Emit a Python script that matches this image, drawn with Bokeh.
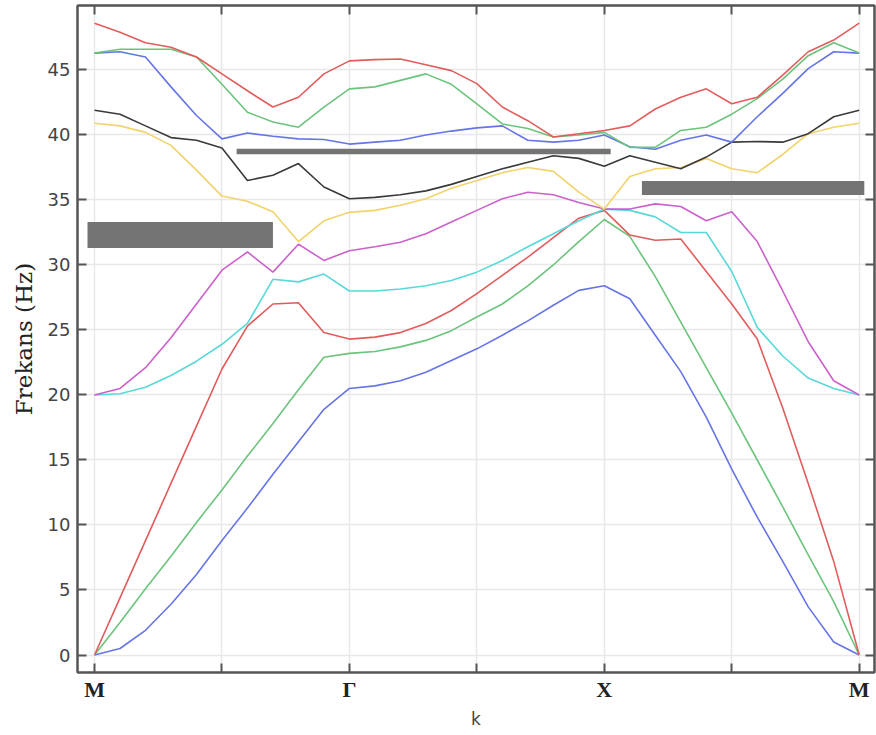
from bokeh.plotting import figure
from bokeh.models import Range1d, FixedTicker, LinearAxis, ColumnDataSource
from bokeh.embed import file_html
from bokeh.resources import INLINE

# wave-vector path positions (M - Gamma - X - M)
k = [0.0, 0.2, 0.4, 0.6, 0.8, 1.0, 1.2, 1.4, 1.6, 1.8, 2.0,
     2.2, 2.4, 2.6, 2.8, 3.0, 3.2, 3.4, 3.6, 3.8, 4.0,
     4.2, 4.4, 4.6, 4.8, 5.0, 5.2, 5.4, 5.6, 5.8, 6.0]

band1 = [0, 0.5, 1.9, 3.9, 6.2, 8.8, 11.3, 13.9, 16.4, 18.9, 20.5,
         20.7, 21.1, 21.75, 22.65, 23.55, 24.6, 25.7, 26.9, 28.05, 28.4,
         27.4, 24.6, 21.8, 18.3, 14.3, 10.6, 7.2, 3.7, 1.0, 0]
band2 = [0, 2.5, 5.1, 7.6, 10.2, 12.7, 15.3, 17.8, 20.4, 22.9, 23.2,
         23.35, 23.7, 24.2, 24.95, 26.0, 27.0, 28.4, 30.0, 31.8, 33.5,
         32.2, 29.1, 25.6, 22.1, 18.6, 15.0, 11.4, 7.7, 4.1, 0]
band3 = [0, 4.4, 8.8, 13.2, 17.6, 22.0, 25.3, 27.0, 27.1, 24.8, 24.3,
         24.45, 24.8, 25.5, 26.5, 27.8, 29.2, 30.6, 32.1, 33.6, 34.2,
         32.3, 31.9, 32.0, 29.5, 27.0, 24.3, 19.0, 13.2, 7.2, 0]
band4 = [20.0, 20.1, 20.6, 21.5, 22.6, 23.9, 25.5, 28.9, 28.7, 29.3, 28.0,
         28.0, 28.15, 28.4, 28.8, 29.45, 30.35, 31.4, 32.4, 33.4, 34.3,
         34.2, 33.7, 32.5, 32.5, 29.5, 25.2, 23.0, 21.3, 20.5, 20.0]
band5 = [20.0, 20.5, 22.1, 24.4, 27.0, 29.6, 31.0, 29.45, 31.6, 30.35, 31.1,
         31.4, 31.75, 32.4, 33.3, 34.2, 35.1, 35.6, 35.4, 34.8, 34.3,
         34.3, 34.7, 34.5, 33.4, 34.1, 31.8, 28.0, 24.1, 21.1, 20.0]
band6 = [40.9, 40.7, 40.2, 39.2, 37.3, 35.3, 34.9, 34.1, 31.8, 33.4, 34.05,
         34.2, 34.6, 35.1, 35.9, 36.5, 37.1, 37.5, 37.2, 35.6, 34.3,
         36.8, 37.4, 37.5, 38.2, 37.4, 37.1, 38.5, 40.1, 40.6, 40.9]
band7 = [41.9, 41.6, 40.7, 39.8, 39.6, 39.0, 36.5, 36.9, 37.8, 36.0, 35.1,
         35.2, 35.4, 35.7, 36.2, 36.8, 37.4, 37.9, 38.4, 38.2, 37.6,
         38.4, 37.9, 37.4, 38.3, 39.45, 39.5, 39.45, 40.1, 41.4, 41.9]
band8 = [46.3, 46.4, 46.0, 43.7, 41.5, 39.7, 40.15, 39.9, 39.7, 39.65, 39.3,
         39.45, 39.6, 40.0, 40.3, 40.55, 40.7, 39.6, 39.45, 39.6, 40.0,
         39.1, 38.9, 39.6, 40.0, 39.45, 41.4, 43.2, 45.1, 46.4, 46.3]
band9 = [46.3, 46.6, 46.6, 46.6, 46.0, 43.9, 41.75, 41.0, 40.6, 42.15, 43.55,
         43.7, 44.2, 44.7, 43.9, 42.4, 40.85, 40.5, 39.85, 40.0, 40.2,
         39.05, 39.05, 40.35, 40.6, 41.6, 42.8, 44.3, 46.1, 47.1, 46.3]
band10 = [48.6, 47.9, 47.1, 46.75, 46.0, 44.7, 43.4, 42.15, 42.9, 44.7, 45.7,
          45.8, 45.85, 45.4, 44.95, 43.95, 42.15, 41.1, 39.85, 40.1, 40.35,
          40.7, 42.0, 42.9, 43.55, 42.4, 42.9, 44.6, 46.4, 47.3, 48.6]

bands = [band1, band2, band3, band4, band5, band6, band7, band8, band9, band10]
colors = ["#6675e6", "#6cc47c", "#e25c5c", "#5ad8d8", "#cc60cc",
          "#f2d36b", "#3a3a3a", "#6675e6", "#6cc47c", "#e25c5c"]

# band gaps
gap_left = [-0.055, 1.115, 4.295]
gap_right = [1.40, 4.05, 6.04]
gap_bottom = [31.31, 38.52, 35.39]
gap_top = [33.31, 38.95, 36.47]

x_ticks = [0, 1, 2, 3, 4, 5, 6]
x_labels = ["M", "", "Γ", "", "X", "", "M"]
y_ticks = [0, 5, 10, 15, 20, 25, 30, 35, 40, 45]
y_title = "Frekans (Hz)"
x_title = "k"

p = figure(width=876, height=735,
           x_range=Range1d(-0.1335, 6.12), y_range=Range1d(-1.346, 49.96),
           output_backend="svg", toolbar_location=None,
           min_border_left=77, min_border_right=2,
           min_border_top=5, min_border_bottom=63)
p.background_fill_color = "white"
p.outline_line_color = "#555555"
p.outline_line_width = 2

p.xgrid.ticker = FixedTicker(ticks=x_ticks)
p.ygrid.ticker = FixedTicker(ticks=y_ticks)
p.grid.grid_line_color = "#e8e8e8"
p.grid.grid_line_width = 1.5

for b, c in zip(bands, colors):
    p.line(k, b, line_color=c, line_width=1.6)

src = ColumnDataSource(dict(left=gap_left, right=gap_right, bottom=gap_bottom, top=gap_top))
p.quad(left="left", right="right", bottom="bottom", top="top", source=src,
       fill_color="#747474", line_color=None)

xa = p.xaxis[0]
xa.ticker = FixedTicker(ticks=x_ticks)
xa.major_label_overrides = {t: l for t, l in zip(x_ticks, x_labels)}
xa.major_label_text_font = "Liberation Serif"
xa.major_label_text_font_style = "bold"
xa.major_label_text_font_size = "22px"
xa.major_label_text_color = "#222222"
xa.major_label_standoff = 4
xa.axis_label = x_title
xa.axis_label_text_font = "DejaVu Sans"
xa.axis_label_text_font_style = "normal"
xa.axis_label_text_font_size = "17px"
xa.axis_label_text_color = "#444444"
xa.axis_label_standoff = 4

ya = p.yaxis[0]
ya.ticker = FixedTicker(ticks=y_ticks)
ya.major_label_text_font = "DejaVu Sans"
ya.major_label_text_font_size = "18px"
ya.major_label_text_color = "#444444"
ya.major_label_standoff = 7
ya.axis_label = y_title
ya.axis_label_text_font = "DejaVu Serif"
ya.axis_label_text_font_style = "normal"
ya.axis_label_text_font_size = "23px"
ya.axis_label_text_color = "#222222"
ya.axis_label_standoff = 8

for ax in (xa, ya):
    ax.major_tick_in = 9
    ax.major_tick_out = 0
    ax.minor_tick_line_color = None
    ax.major_tick_line_color = "#555555"
    ax.major_tick_line_width = 2
    ax.axis_line_color = "#555555"
    ax.axis_line_width = 2

ra = LinearAxis(ticker=FixedTicker(ticks=y_ticks),
                major_label_overrides={t: "" for t in y_ticks},
                major_label_text_font_size="1px",
                major_label_standoff=0, major_tick_in=9, major_tick_out=0,
                minor_tick_line_color=None, major_tick_line_color="#555555",
                major_tick_line_width=2, axis_line_color="#555555", axis_line_width=2)
p.add_layout(ra, "right")
ta = LinearAxis(ticker=FixedTicker(ticks=x_ticks),
                major_label_overrides={t: "" for t in x_ticks},
                major_label_text_font_size="1px",
                major_label_standoff=0, major_tick_in=9, major_tick_out=0,
                minor_tick_line_color=None, major_tick_line_color="#555555",
                major_tick_line_width=2, axis_line_color="#555555", axis_line_width=2)
p.add_layout(ta, "above")

open("out.html", "w").write(file_html(p, INLINE))
